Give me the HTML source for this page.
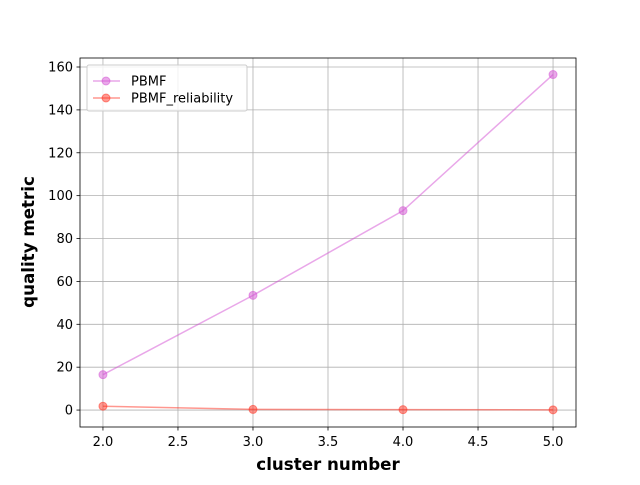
<!DOCTYPE html>
<html><head><meta charset="utf-8"><style>
body{margin:0;background:#fff;font-family:"Liberation Sans","DejaVu Sans",sans-serif;}
svg text{font-family:"DejaVu Sans","Liberation Sans",sans-serif;}
</style></head><body>
<svg id="c" width="640" height="480" xmlns="http://www.w3.org/2000/svg"></svg>
<script>
const categories=[2,3,4,5];
const pbmf=[16.5,53.5,93,156.5];
const reliability=[1.8,0.3,0.2,0.1];
const xTicks=[2.0,2.5,3.0,3.5,4.0,4.5,5.0];
const yTicks=[0,20,40,60,80,100,120,140,160];
const L=80,R=576,T=58,B=427;
const xmin=1.847,xmax=5.153,ymin=-7.9,ymax=164.2;
const sx=v=>L+(v-xmin)/(xmax-xmin)*(R-L);
const sy=v=>B-(v-ymin)/(ymax-ymin)*(B-T);
const svg=document.getElementById('c');
const NS='http://www.w3.org/2000/svg';
function mk(tag,attrs,parent){const e=document.createElementNS(NS,tag);for(const k in attrs)e.setAttribute(k,attrs[k]);(parent||svg).appendChild(e);return e;}
const grid=mk('g',{});


xTicks.forEach(v=>{
  mk('line',{x1:sx(v),x2:sx(v),y1:T,y2:B,stroke:'#b0b0b0','stroke-width':0.8},grid);
  mk('line',{x1:sx(v),x2:sx(v),y1:B,y2:B+3.5,stroke:'#000','stroke-width':0.8});
  const t=mk('text',{x:sx(v),y:B+19,'font-size':13,'text-anchor':'middle'});
  t.textContent=v.toFixed(1);
  
  
});
yTicks.forEach(v=>{
  mk('line',{x1:L,x2:R,y1:sy(v),y2:sy(v),stroke:'#b0b0b0','stroke-width':0.8},grid);
  mk('line',{x1:L-3.5,x2:L,y1:sy(v),y2:sy(v),stroke:'#000','stroke-width':0.8});
  const t=mk('text',{x:L-7,y:sy(v)+4.5,'font-size':13,'text-anchor':'end'});
  t.textContent=v;
  
  
});
function series(vals,color,name){
  const g=mk('g',{});
  
  
  mk('polyline',{points:vals.map((v,i)=>sx(categories[i])+','+sy(v)).join(' '),fill:'none',stroke:color,'stroke-opacity':0.5,'stroke-width':1.5},g);
  vals.forEach((v,i)=>{
    const c=mk('circle',{cx:sx(categories[i]),cy:sy(v),r:4,fill:color,'fill-opacity':0.5,stroke:color,'stroke-opacity':0.5},g);
    
    
  });
}
series(pbmf,'#d44fd4','pbmf-series');
series(reliability,'#ff3020','reliability-series');
const frame=mk('rect',{x:L,y:T,width:R-L,height:B-T,fill:'none',stroke:'#000','stroke-width':0.8});


const xl=mk('text',{x:(L+R)/2,y:470,'font-size':16.7,'font-weight':'bold','text-anchor':'middle'});
xl.textContent='cluster number';


const yl=mk('text',{x:0,y:0,'font-size':16.7,'font-weight':'bold','text-anchor':'middle',transform:'translate(34,242) rotate(-90)'});
yl.textContent='quality metric';


const lg=mk('g',{});


mk('rect',{x:87,y:65,width:160,height:46,rx:2,fill:'#fff','fill-opacity':0.8,stroke:'#ccc'},lg);
[['PBMF','#d44fd4',81],['PBMF_reliability','#ff3020',98]].forEach(([n,c,y])=>{
  mk('line',{x1:93,x2:120,y1:y,y2:y,stroke:c,'stroke-opacity':0.5,'stroke-width':1.5},lg);
  mk('circle',{cx:106,cy:y,r:4,fill:c,'fill-opacity':0.5,stroke:c,'stroke-opacity':0.5},lg);
  const t=mk('text',{x:131,y:y+4.5,'font-size':13},lg);
  t.textContent=n;
  
  
});
</script>
</body></html>
